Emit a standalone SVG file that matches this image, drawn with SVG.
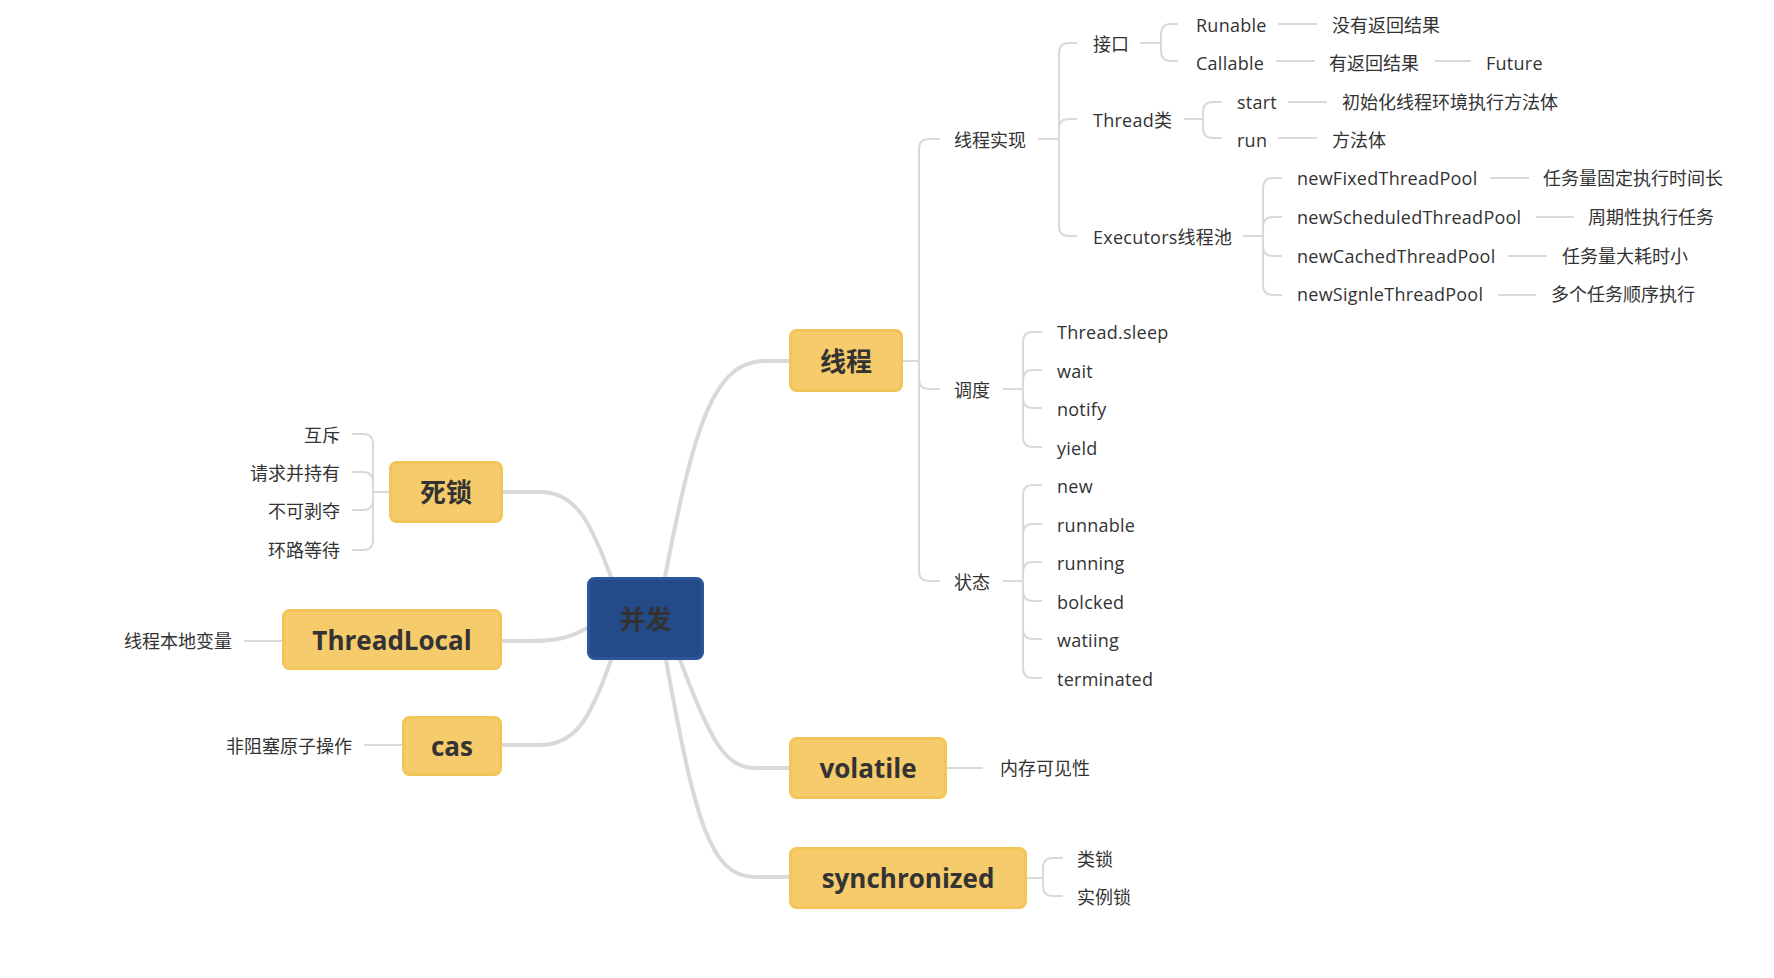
<svg xmlns="http://www.w3.org/2000/svg" width="1774" height="978" viewBox="0 0 1774 978">
<style>
.bg{fill:#ffffff}
.n{fill:#f5cb6b;stroke:#f3c457;stroke-width:3}
.c{fill:#244a87;stroke:#2c5699;stroke-width:3}
.nt{font-family:"Open Sans","Noto Sans CJK SC",sans-serif;font-size:26px;font-weight:700;fill:#333333;text-anchor:middle;dominant-baseline:central}
.t{font-family:"Open Sans","Noto Sans CJK SC",sans-serif;font-size:18px;fill:#333333;dominant-baseline:central}
.e{letter-spacing:0.25px}
.r{text-anchor:end}
.m{fill:none;stroke:#d9d9d9;stroke-width:4;stroke-linecap:round}
.l{fill:none;stroke:#d9d9d9;stroke-width:2}
</style>
<rect class="bg" x="0" y="0" width="1774" height="978"/>
<g id="connectors">
<path class="m" d="M665,577 C695,420 715,361 765,361 L789,361"/>
<path class="m" d="M611,577 C590,520 575,492 540,492 L503,492"/>
<path class="m" d="M587,628 C570,638 555,641 530,641 L502,641"/>
<path class="m" d="M611,660 C590,720 575,745 540,745 L502,745"/>
<path class="m" d="M680,660 C710,740 725,768 755,768 L789,768"/>
<path class="m" d="M666,660 C695,820 710,877 755,877 L789,877"/>
<path class="l" d="M903,361 H919 V149 Q919,139 929,139 H940"/>
<path class="l" d="M903,361 H919 V379 Q919,389 929,389 H940"/>
<path class="l" d="M903,361 H919 V571 Q919,581 929,581 H940"/>
<path class="l" d="M1038,139 H1059 V53 Q1059,43 1069,43 H1077"/>
<path class="l" d="M1038,139 H1059 V129 Q1059,119 1069,119 H1077"/>
<path class="l" d="M1038,139 H1059 V226 Q1059,236 1069,236 H1077"/>
<path class="l" d="M1140,43 H1161 V34 Q1161,24 1171,24 H1178"/>
<path class="l" d="M1140,43 H1161 V51 Q1161,61 1171,61 H1178"/>
<path class="l" d="M1278,24 H1317"/>
<path class="l" d="M1276,61 H1315"/>
<path class="l" d="M1435,61 H1471"/>
<path class="l" d="M1184,119 H1203 V112 Q1203,102 1213,102 H1222"/>
<path class="l" d="M1184,119 H1203 V128 Q1203,138 1213,138 H1222"/>
<path class="l" d="M1288,102 H1327"/>
<path class="l" d="M1278,138 H1317"/>
<path class="l" d="M1243,236 H1263 V188 Q1263,178 1273,178 H1282"/>
<path class="l" d="M1243,236 H1263 V227 Q1263,217 1273,217 H1282"/>
<path class="l" d="M1243,236 H1263 V246 Q1263,256 1273,256 H1282"/>
<path class="l" d="M1243,236 H1263 V285 Q1263,295 1273,295 H1282"/>
<path class="l" d="M1490,178 H1529"/>
<path class="l" d="M1536,217 H1574"/>
<path class="l" d="M1508,256 H1547"/>
<path class="l" d="M1498,295 H1536"/>
<path class="l" d="M1003,389 H1023 V342 Q1023,332 1033,332 H1042"/>
<path class="l" d="M1003,389 H1023 V380 Q1023,370 1033,370 H1042"/>
<path class="l" d="M1003,389 H1023 V398 Q1023,408 1033,408 H1042"/>
<path class="l" d="M1003,389 H1023 V437 Q1023,447 1033,447 H1042"/>
<path class="l" d="M1003,581 H1023 V495 Q1023,485 1033,485 H1042"/>
<path class="l" d="M1003,581 H1023 V534 Q1023,524 1033,524 H1042"/>
<path class="l" d="M1003,581 H1023 V572 Q1023,562 1033,562 H1042"/>
<path class="l" d="M1003,581 H1023 V591 Q1023,601 1033,601 H1042"/>
<path class="l" d="M1003,581 H1023 V629 Q1023,639 1033,639 H1042"/>
<path class="l" d="M1003,581 H1023 V668 Q1023,678 1033,678 H1042"/>
<path class="l" d="M389,492 H373 V444 Q373,434 363,434 H352"/>
<path class="l" d="M389,492 H373 V482 Q373,472 363,472 H352"/>
<path class="l" d="M389,492 H373 V500 Q373,510 363,510 H352"/>
<path class="l" d="M389,492 H373 V540 Q373,550 363,550 H352"/>
<path class="l" d="M282,641 H244"/>
<path class="l" d="M402,745 H364"/>
<path class="l" d="M947,768 H983"/>
<path class="l" d="M1027,878 H1043 V868 Q1043,858 1053,858 H1063"/>
<path class="l" d="M1027,878 H1043 V886 Q1043,896 1053,896 H1063"/>
</g>
<g id="node-bingfa"><rect class="c" x="588.5" y="578.5" width="114" height="80" rx="6"/><text class="nt" x="645.5" y="618.5">并发</text></g>
<g id="node-xiancheng"><rect class="n" x="790.5" y="330.5" width="111" height="60" rx="6"/><text class="nt" x="846" y="360.5">线程</text></g>
<g id="node-sisuo"><rect class="n" x="390.5" y="462.5" width="111" height="59" rx="6"/><text class="nt" x="446" y="492">死锁</text></g>
<g id="node-threadlocal"><rect class="n" x="283.5" y="610.5" width="217" height="58" rx="6"/><text class="nt" x="392" y="640">ThreadLocal</text></g>
<g id="node-cas"><rect class="n" x="403.5" y="717.5" width="97" height="57" rx="6"/><text class="nt" x="452" y="746">cas</text></g>
<g id="node-volatile"><rect class="n" x="790.5" y="738.5" width="155" height="59" rx="6"/><text class="nt" x="868" y="768">volatile</text></g>
<g id="node-synchronized"><rect class="n" x="790.5" y="848.5" width="235" height="59" rx="6"/><text class="nt" x="908" y="878">synchronized</text></g>
<g id="labels-thread">
<g id="l-xcsx"><text class="t" x="954" y="140">线程实现</text></g>
<g id="l-dd"><text class="t" x="954" y="390">调度</text></g>
<g id="l-zt"><text class="t" x="954" y="582">状态</text></g>
<g id="l-jk"><text class="t" x="1093" y="44">接口</text></g>
<g id="l-threadclass"><text class="t e" x="1093" y="120">Thread类</text></g>
<g id="l-executors"><text class="t e" x="1093" y="237">Executors线程池</text></g>
<g id="l-runable"><text class="t e" x="1196" y="25">Runable</text></g>
<g id="l-callable"><text class="t e" x="1196" y="63">Callable</text></g>
<g id="l-myfhjg"><text class="t" x="1332" y="25">没有返回结果</text></g>
<g id="l-yfhjg"><text class="t" x="1329" y="63">有返回结果</text></g>
<g id="l-future"><text class="t e" x="1486" y="63">Future</text></g>
<g id="l-start"><text class="t e" x="1237" y="102">start</text></g>
<g id="l-run"><text class="t e" x="1237" y="140">run</text></g>
<g id="l-init"><text class="t" x="1342" y="102">初始化线程环境执行方法体</text></g>
<g id="l-ffb"><text class="t" x="1332" y="140">方法体</text></g>
<g id="l-fixed"><text class="t e" x="1297" y="178">newFixedThreadPool</text></g>
<g id="l-sched"><text class="t e" x="1297" y="217">newScheduledThreadPool</text></g>
<g id="l-cached"><text class="t e" x="1297" y="256">newCachedThreadPool</text></g>
<g id="l-single"><text class="t e" x="1297" y="294">newSignleThreadPool</text></g>
<g id="l-fixed-d"><text class="t" x="1543" y="178">任务量固定执行时间长</text></g>
<g id="l-sched-d"><text class="t" x="1588" y="217">周期性执行任务</text></g>
<g id="l-cached-d"><text class="t" x="1562" y="256">任务量大耗时小</text></g>
<g id="l-single-d"><text class="t" x="1551" y="294">多个任务顺序执行</text></g>
<g id="l-sleep"><text class="t e" x="1057" y="332">Thread.sleep</text></g>
<g id="l-wait"><text class="t e" x="1057" y="371">wait</text></g>
<g id="l-notify"><text class="t e" x="1057" y="409">notify</text></g>
<g id="l-yield"><text class="t e" x="1057" y="448">yield</text></g>
<g id="l-new"><text class="t e" x="1057" y="486">new</text></g>
<g id="l-runnable"><text class="t e" x="1057" y="525">runnable</text></g>
<g id="l-running"><text class="t e" x="1057" y="563">running</text></g>
<g id="l-bolcked"><text class="t e" x="1057" y="602">bolcked</text></g>
<g id="l-watiing"><text class="t e" x="1057" y="640">watiing</text></g>
<g id="l-terminated"><text class="t e" x="1057" y="679">terminated</text></g>
</g>
<g id="labels-left">
<g id="l-hc"><text class="t r" x="340" y="435">互斥</text></g>
<g id="l-qqbcy"><text class="t r" x="340" y="473">请求并持有</text></g>
<g id="l-bkbd"><text class="t r" x="340" y="511">不可剥夺</text></g>
<g id="l-hldd"><text class="t r" x="340" y="550">环路等待</text></g>
<g id="l-xcbdbl"><text class="t r" x="232" y="641">线程本地变量</text></g>
<g id="l-fzsyzcz"><text class="t r" x="352" y="746">非阻塞原子操作</text></g>
</g>
<g id="labels-bottom">
<g id="l-nckjx"><text class="t" x="1000" y="768">内存可见性</text></g>
<g id="l-ls"><text class="t" x="1077" y="859">类锁</text></g>
<g id="l-sls"><text class="t" x="1077" y="897">实例锁</text></g>
</g>
</svg>
